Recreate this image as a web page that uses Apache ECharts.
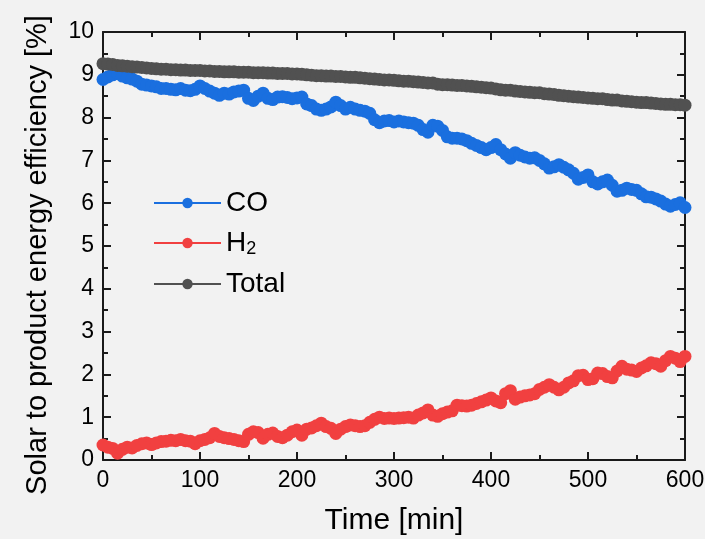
<!DOCTYPE html>
<html>
<head>
<meta charset="utf-8">
<script src="https://cdn.jsdelivr.net/npm/echarts@6/dist/echarts.min.js"></script>
<style>
  html, body { margin: 0; padding: 0; background: #f2f2f2; }
  #chart { width: 705px; height: 539px; }
</style>
</head>
<body>
<div id="chart"></div>
<script>
// Time sampling (min): every 5 min from 0 to 600
const timeStep = 5;

const coValues = [
  8.89,8.95,9.00,9.03,8.97,8.93,8.90,8.85,8.78,8.76,
  8.74,8.72,8.68,8.68,8.66,8.65,8.68,8.64,8.63,8.66,
  8.74,8.68,8.62,8.57,8.52,8.57,8.55,8.60,8.62,8.64,
  8.45,8.40,8.50,8.57,8.45,8.42,8.48,8.49,8.47,8.44,
  8.46,8.48,8.32,8.28,8.20,8.17,8.20,8.25,8.36,8.28,
  8.20,8.24,8.20,8.17,8.15,8.10,7.95,7.88,7.92,7.93,
  7.90,7.92,7.90,7.88,7.87,7.82,7.72,7.66,7.82,7.80,
  7.70,7.55,7.52,7.52,7.50,7.46,7.40,7.35,7.30,7.25,
  7.30,7.37,7.25,7.15,7.05,7.18,7.12,7.08,7.05,7.06,
  7.00,6.92,6.82,6.85,6.90,6.84,6.78,6.70,6.56,6.60,
  6.66,6.50,6.45,6.50,6.54,6.42,6.28,6.30,6.35,6.32,
  6.30,6.22,6.15,6.14,6.10,6.05,5.98,5.93,5.97,6.01,
  5.90
];

const h2Values = [
  0.35,0.30,0.27,0.16,0.25,0.30,0.28,0.34,0.38,0.40,
  0.36,0.40,0.43,0.44,0.46,0.45,0.48,0.45,0.44,0.38,
  0.45,0.48,0.52,0.62,0.55,0.52,0.50,0.48,0.45,0.43,
  0.60,0.66,0.64,0.51,0.60,0.63,0.55,0.52,0.58,0.66,
  0.70,0.58,0.72,0.75,0.80,0.86,0.78,0.74,0.62,0.72,
  0.78,0.82,0.80,0.78,0.80,0.88,0.95,1.00,0.97,0.98,
  0.97,0.98,0.99,1.00,0.98,1.05,1.10,1.17,1.05,1.02,
  1.08,1.12,1.15,1.28,1.27,1.26,1.28,1.32,1.36,1.40,
  1.45,1.38,1.34,1.55,1.62,1.42,1.47,1.50,1.52,1.55,
  1.65,1.70,1.76,1.70,1.64,1.70,1.80,1.85,1.97,1.98,
  1.88,1.90,2.03,2.02,1.95,1.92,2.08,2.19,2.12,2.10,
  2.07,2.15,2.20,2.27,2.25,2.19,2.32,2.42,2.38,2.30,
  2.42
];

const totalValues = [
  9.26,9.25,9.24,9.22,9.21,9.20,9.19,9.18,9.17,9.16,
  9.15,9.14,9.13,9.13,9.12,9.12,9.11,9.11,9.10,9.10,
  9.10,9.09,9.09,9.08,9.08,9.07,9.07,9.07,9.06,9.06,
  9.06,9.05,9.05,9.05,9.04,9.04,9.03,9.03,9.03,9.02,
  9.02,9.01,9.00,8.99,8.98,8.98,8.97,8.97,8.96,8.96,
  8.95,8.94,8.94,8.93,8.92,8.91,8.90,8.89,8.88,8.88,
  8.87,8.86,8.85,8.85,8.84,8.83,8.82,8.81,8.81,8.78,
  8.77,8.77,8.76,8.75,8.75,8.74,8.73,8.72,8.71,8.70,
  8.69,8.67,8.65,8.64,8.64,8.62,8.61,8.60,8.59,8.58,
  8.58,8.56,8.55,8.54,8.52,8.51,8.50,8.49,8.48,8.47,
  8.46,8.45,8.44,8.44,8.42,8.41,8.41,8.39,8.38,8.37,
  8.36,8.35,8.35,8.34,8.33,8.32,8.31,8.31,8.30,8.30,
  8.29
];

const seriesNames = ['CO', 'H2', 'Total'];
const seriesColors = ['#1a6fdf', '#f14040', '#515151'];
const xTicks = [0, 100, 200, 300, 400, 500, 600];
const yTicks = [0, 1, 2, 3, 4, 5, 6, 7, 8, 9, 10];

const pair = vals => vals.map((v, i) => [i * timeStep, v]);
const FONT = 'Liberation Sans, Arial, sans-serif';

const chart = echarts.init(document.getElementById('chart'), null, { renderer: 'canvas' });

const axisCommon = {
  type: 'value',
  axisLine: { show: true, onZero: false, lineStyle: { color: '#1a1a1a', width: 2 } },
  axisTick: { show: true, inside: true, length: 8, lineStyle: { color: '#1a1a1a', width: 2 } },
  minorTick: { show: true, splitNumber: 2, length: 5, lineStyle: { color: '#1a1a1a', width: 2 } },
  splitLine: { show: false },
  minorSplitLine: { show: false }
};

chart.setOption({
  backgroundColor: '#f2f2f2',
  animation: false,
  grid: { left: 103, right: 20, top: 32, bottom: 79, containLabel: false, outerBoundsMode: 'none' },
  legend: {
    orient: 'vertical',
    left: 153,
    top: 189,
    padding: 0,
    itemWidth: 67,
    itemHeight: 13,
    itemGap: 12,
    data: seriesNames,
    formatter: n => (n === 'H2' ? 'H{sub|2}' : n),
    textStyle: {
      fontFamily: FONT, fontSize: 28, color: '#000',
      rich: { sub: { fontFamily: FONT, fontSize: 18, color: '#000', padding: [12, 0, 0, 0], verticalAlign: 'bottom' } }
    }
  },
  xAxis: [
    Object.assign({}, axisCommon, {
      position: 'bottom', min: xTicks[0], max: xTicks[xTicks.length - 1], interval: 100,
      name: 'Time [min]', nameLocation: 'middle', nameGap: 46,
      nameTextStyle: { fontFamily: FONT, fontSize: 30, color: '#000' },
      axisLabel: { show: true, margin: 9, fontFamily: FONT, fontSize: 23, color: '#000' }
    }),
    Object.assign({}, axisCommon, {
      position: 'top', min: xTicks[0], max: xTicks[xTicks.length - 1], interval: 100,
      axisLabel: { show: false }
    })
  ],
  yAxis: [
    Object.assign({}, axisCommon, {
      position: 'left', min: yTicks[0], max: yTicks[yTicks.length - 1], interval: 1,
      name: 'Solar to product energy efficiency [%]', nameLocation: 'middle', nameGap: 51,
      nameTextStyle: { fontFamily: FONT, fontSize: 29, color: '#000', padding: [0, 18, 0, 0] },
      axisLabel: { show: true, margin: 9, fontFamily: FONT, fontSize: 23, color: '#000' }
    }),
    Object.assign({}, axisCommon, {
      position: 'right', min: yTicks[0], max: yTicks[yTicks.length - 1], interval: 1,
      axisLabel: { show: false }
    })
  ],
  series: [coValues, h2Values, totalValues].map((vals, i) => ({
    name: seriesNames[i],
    type: 'line',
    xAxisIndex: 0,
    yAxisIndex: 0,
    data: pair(vals),
    symbol: 'circle',
    symbolSize: 13,
    showSymbol: true,
    color: seriesColors[i],
    itemStyle: { color: seriesColors[i] },
    lineStyle: { color: seriesColors[i], width: 3 },
    emphasis: { disabled: true }
  }))
});
</script>
</body>
</html>
